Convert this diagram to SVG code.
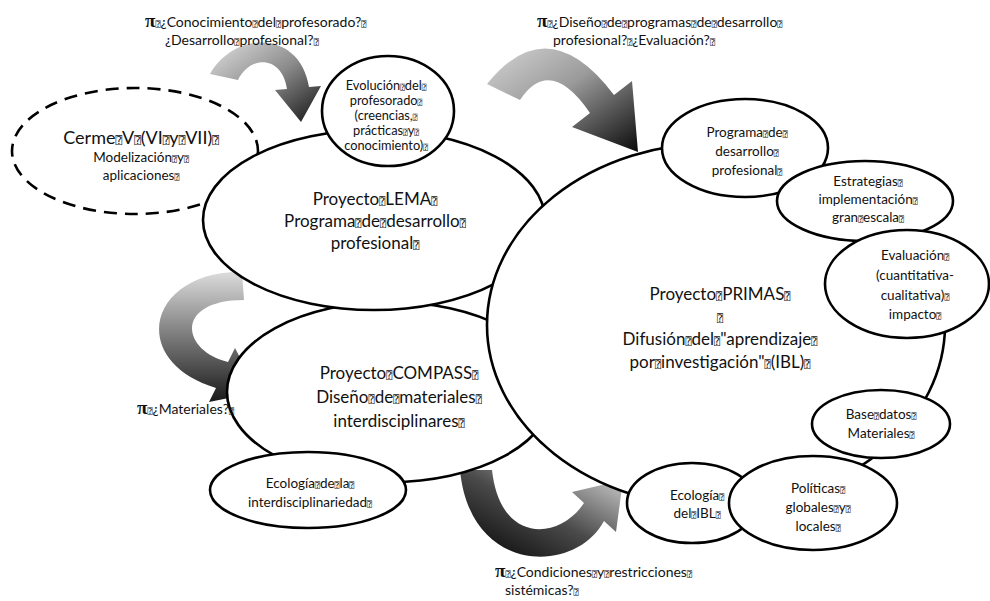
<svg xmlns="http://www.w3.org/2000/svg" width="990" height="601" viewBox="0 0 990 601">
<defs>
<style>
text{font-family:Lato,"Open Sans","Liberation Sans",sans-serif;fill:#111;text-anchor:middle}
.lb{text-anchor:start;font-size:14px}
.big{font-size:17px}
.sm{font-size:13.5px}
.xs{font-size:12.8px}
.q{font-family:"DejaVu Sans Mono","DejaVu Sans",monospace;font-size:60%}
.pi{font-family:"Liberation Serif","DejaVu Serif",serif;font-size:19px;font-weight:bold}
ellipse{fill:#fff;stroke:#000;stroke-width:2.6}
.dash{fill:none;stroke-dasharray:13 8}
</style>
<linearGradient id="gA" x1="0" y1="0" x2="1" y2="1"><stop offset="0" stop-color="#e0e0e0"/><stop offset="0.5" stop-color="#8c8c8c"/><stop offset="1" stop-color="#141414"/></linearGradient>
<linearGradient id="gB" x1="0" y1="0" x2="1" y2="1"><stop offset="0" stop-color="#d4d4d4"/><stop offset="0.45" stop-color="#9a9a9a"/><stop offset="1" stop-color="#0a0a0a"/></linearGradient>
<linearGradient id="gC" x1="0.6" y1="0" x2="0.6" y2="1"><stop offset="0" stop-color="#dcdcdc"/><stop offset="0.5" stop-color="#7a7a7a"/><stop offset="1" stop-color="#1a1a1a"/></linearGradient>
<linearGradient id="gD" x1="0" y1="1" x2="1" y2="0"><stop offset="0" stop-color="#000"/><stop offset="0.5" stop-color="#4a4a4a"/><stop offset="1" stop-color="#d8d8d8"/></linearGradient>
</defs>
<rect width="990" height="601" fill="#fff"/>

<g id="connectors">
<path d="M 210,74 C 235,30 300,30 309,87 L 321,86 L 301,122 L 275,90 L 287,89 C 282,55 250,55 238,80 Z" fill="url(#gA)"/>
<path d="M 487,84 Q 548,8 614,95 L 632,81 L 638,152 L 572,127 L 590,113 Q 550,55 520,100 Z" fill="url(#gB)"/>
<path d="M 242,272 C 150,270 125,360 216,388 L 209,402 L 258,392 L 235,348 L 228,362 C 180,350 175,300 244,300 Z" fill="url(#gC)"/>
<path d="M 460,470 C 470,575 575,575 604,521 L 616,532 L 623,480 L 572,492 L 584,503 C 560,540 500,545 492,470 Z" fill="url(#gD)"/>
</g>

<g id="cerme">
<ellipse class="dash" cx="135" cy="151" rx="123" ry="63"/>
<text x="141" y="144" style="font-size:18px">Cerme<tspan class="q">⍰</tspan>V<tspan class="q">⍰</tspan>(VI<tspan class="q">⍰</tspan>y<tspan class="q">⍰</tspan>VII)<tspan class="q">⍰</tspan></text>
<text x="141" y="162" class="sm">Modelización<tspan class="q">⍰</tspan>y<tspan class="q">⍰</tspan></text>
<text x="141" y="180" class="sm">aplicaciones<tspan class="q">⍰</tspan></text>
</g>

<g id="compass">
<ellipse cx="390" cy="392" rx="163" ry="90"/>
<text x="399" y="379" class="big">Proyecto<tspan class="q">⍰</tspan>COMPASS<tspan class="q">⍰</tspan></text>
<text x="399" y="403" class="big">Diseño<tspan class="q">⍰</tspan>de<tspan class="q">⍰</tspan>materiales<tspan class="q">⍰</tspan></text>
<text x="399" y="427" class="big">interdisciplinares<tspan class="q">⍰</tspan></text>
</g>

<g id="lema">
<ellipse cx="374" cy="220" rx="171" ry="90"/>
<text x="375" y="205" class="big">Proyecto<tspan class="q">⍰</tspan>LEMA<tspan class="q">⍰</tspan></text>
<text x="375" y="227" class="big">Programa<tspan class="q">⍰</tspan>de<tspan class="q">⍰</tspan>desarrollo<tspan class="q">⍰</tspan></text>
<text x="375" y="249" class="big">profesional<tspan class="q">⍰</tspan></text>
</g>

<g id="evolucion">
<ellipse cx="388" cy="111" rx="66" ry="55"/>
<text x="386" y="90" class="xs">Evolución<tspan class="q">⍰</tspan>del<tspan class="q">⍰</tspan></text>
<text x="386" y="105" class="xs">profesorado<tspan class="q">⍰</tspan></text>
<text x="386" y="120" class="xs">(creencias,<tspan class="q">⍰</tspan></text>
<text x="386" y="135" class="xs">prácticas<tspan class="q">⍰</tspan>y<tspan class="q">⍰</tspan></text>
<text x="386" y="150" class="xs">conocimiento)<tspan class="q">⍰</tspan></text>
</g>

<g id="primas">
<ellipse cx="716" cy="325" rx="229" ry="182"/>
<text x="720" y="300" class="big">Proyecto<tspan class="q">⍰</tspan>PRIMAS<tspan class="q">⍰</tspan></text>
<text x="720" y="322" class="big"><tspan class="q">⍰</tspan></text>
<text x="720" y="345" class="big">Difusión<tspan class="q">⍰</tspan>del<tspan class="q">⍰</tspan>"aprendizaje<tspan class="q">⍰</tspan></text>
<text x="720" y="368" class="big">por<tspan class="q">⍰</tspan>investigación"<tspan class="q">⍰</tspan>(IBL)<tspan class="q">⍰</tspan></text>
</g>

<g id="ecologia-inter">
<ellipse cx="308" cy="490" rx="98" ry="38"/>
<text x="310" y="488" class="sm">Ecología<tspan class="q">⍰</tspan>de<tspan class="q">⍰</tspan>la<tspan class="q">⍰</tspan></text>
<text x="310" y="507" class="sm">interdisciplinariedad<tspan class="q">⍰</tspan></text>
</g>

<g id="programa">
<ellipse cx="745" cy="148" rx="83" ry="49"/>
<text x="747" y="137" class="sm">Programa<tspan class="q">⍰</tspan>de<tspan class="q">⍰</tspan></text>
<text x="747" y="156" class="sm">desarrollo<tspan class="q">⍰</tspan></text>
<text x="747" y="175" class="sm">profesional<tspan class="q">⍰</tspan></text>
</g>

<g id="estrategias">
<ellipse cx="865" cy="201" rx="88" ry="40"/>
<text x="868" y="186" class="sm">Estrategias<tspan class="q">⍰</tspan></text>
<text x="868" y="204" class="sm">implementación<tspan class="q">⍰</tspan></text>
<text x="868" y="222" class="sm">gran<tspan class="q">⍰</tspan>escala<tspan class="q">⍰</tspan></text>
</g>

<g id="evaluacion">
<ellipse cx="907" cy="284" rx="82" ry="54"/>
<text x="915" y="260" class="sm">Evaluación<tspan class="q">⍰</tspan></text>
<text x="915" y="280" class="sm">(cuantitativa-</text>
<text x="915" y="300" class="sm">cualitativa)<tspan class="q">⍰</tspan></text>
<text x="915" y="319" class="sm">impacto<tspan class="q">⍰</tspan></text>
</g>

<g id="base-datos">
<ellipse cx="881" cy="424" rx="69" ry="34"/>
<text x="881" y="419" class="sm">Base<tspan class="q">⍰</tspan>datos<tspan class="q">⍰</tspan></text>
<text x="881" y="438" class="sm">Materiales<tspan class="q">⍰</tspan></text>
</g>

<g id="ecologia-ibl">
<ellipse cx="692" cy="503" rx="65" ry="40"/>
<text x="697" y="500" class="sm">Ecología<tspan class="q">⍰</tspan></text>
<text x="697" y="518" class="sm">del<tspan class="q">⍰</tspan>IBL<tspan class="q">⍰</tspan></text>
</g>

<g id="politicas">
<ellipse cx="813" cy="503" rx="84" ry="47"/>
<text x="818" y="493" class="sm">Políticas<tspan class="q">⍰</tspan></text>
<text x="818" y="512" class="sm">globales<tspan class="q">⍰</tspan>y<tspan class="q">⍰</tspan></text>
<text x="818" y="531" class="sm">locales<tspan class="q">⍰</tspan></text>
</g>

<g id="labels">
<text class="lb" x="145" y="27"><tspan class="pi">π</tspan><tspan class="q">⍰</tspan>¿Conocimiento<tspan class="q">⍰</tspan>del<tspan class="q">⍰</tspan>profesorado?<tspan class="q">⍰</tspan></text>
<text class="lb" x="165" y="45">¿Desarrollo<tspan class="q">⍰</tspan>profesional?<tspan class="q">⍰</tspan></text>
<text class="lb" x="537" y="27"><tspan class="pi">π</tspan><tspan class="q">⍰</tspan>¿Diseño<tspan class="q">⍰</tspan>de<tspan class="q">⍰</tspan>programas<tspan class="q">⍰</tspan>de<tspan class="q">⍰</tspan>desarrollo<tspan class="q">⍰</tspan></text>
<text class="lb" x="553" y="45">profesional?<tspan class="q">⍰</tspan>¿Evaluación?<tspan class="q">⍰</tspan></text>
<text class="lb" x="137" y="414"><tspan class="pi">π</tspan><tspan class="q">⍰</tspan>¿Materiales?<tspan class="q">⍰</tspan></text>
<text class="lb" x="495" y="577"><tspan class="pi">π</tspan><tspan class="q">⍰</tspan>¿Condiciones<tspan class="q">⍰</tspan>y<tspan class="q">⍰</tspan>restricciones<tspan class="q">⍰</tspan></text>
<text class="lb" x="505" y="595">sistémicas?<tspan class="q">⍰</tspan></text>
</g>
</svg>
